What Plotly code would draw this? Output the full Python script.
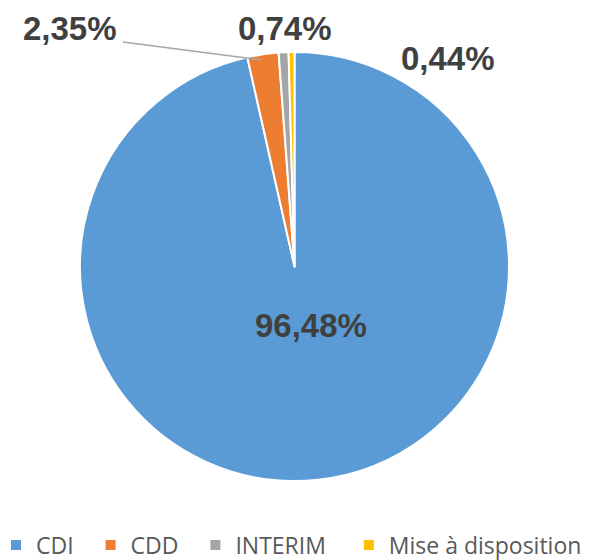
import plotly.graph_objects as go

# data
labels = ["CDI", "CDD", "INTERIM", "Mise à disposition"]
values = [96.48, 2.35, 0.74, 0.44]
text_labels = ["96,48%", "2,35%", "0,74%", "0,44%"]
colors = ["#5B9BD5", "#ED7D31", "#A5A5A5", "#FFC000"]

# page body has an 8px margin, so the figure is drawn 8px in from the corner
OFF = 8
W, H = 595, 552
B = 40                      # bottom margin, legend lives there
GH = H - B                  # plot area height


def px(x, y):
    """picture pixel (from top-left) -> paper coords"""
    return (x - OFF) / W, (GH - (y - OFF)) / GH


_LBL_FONT = dict(family="Liberation Sans, Arial, sans-serif", size=33,
                 color="#404040")

# a bit of trailing room so the legend entries spread out like the original
_pad = ["\u00a0\u00a0", "\u00a0\u00a0", "\u00a0\u00a0\u00a0", ""]
legend_labels = [s + p for s, p in zip(labels, _pad)]

dx0, dy1 = px(79, 52)
dx1, dy0 = px(510, 481)

fig = go.Figure(go.Pie(
    labels=legend_labels, values=values,
    sort=False, direction="clockwise", rotation=0,
    domain=dict(x=[dx0, dx1], y=[dy0, dy1]),
    marker=dict(colors=colors, line=dict(color="white", width=2)),
    textinfo="none",
    hoverinfo="label+percent",
))

# label positions (pixels in the picture)
label_pos = [(311, 325), (70, 28), (285, 28), (448, 58)]
annotations = []
for txt, (x, y) in zip(text_labels, label_pos):
    ax, ay = px(x, y)
    annotations.append(dict(
        text=f"<b>{txt}</b>", x=ax, y=ay, xref="paper", yref="paper",
        showarrow=False, font=_LBL_FONT, xanchor="center", yanchor="middle",
    ))

x0, y0 = px(123, 42)
x1, y1 = px(262, 60)
lx, ly = px(-4, 545)

fig.update_layout(
    width=W, height=H,
    paper_bgcolor="white", plot_bgcolor="white",
    margin=dict(l=0, r=0, t=0, b=B, autoexpand=False),
    annotations=annotations,
    shapes=[dict(type="line", xref="paper", yref="paper",
                 x0=x0, y0=y0, x1=x1, y1=y1,
                 line=dict(color="#A6A6A6", width=1.5))],
    showlegend=True,
    legend=dict(orientation="h", x=lx, xanchor="left",
                y=ly, yanchor="middle",
                font=dict(family="Open Sans, sans-serif", size=23,
                          color="#595959"),
                itemwidth=30, bgcolor="rgba(0,0,0,0)"),
)

fig.write_html("out.html")
